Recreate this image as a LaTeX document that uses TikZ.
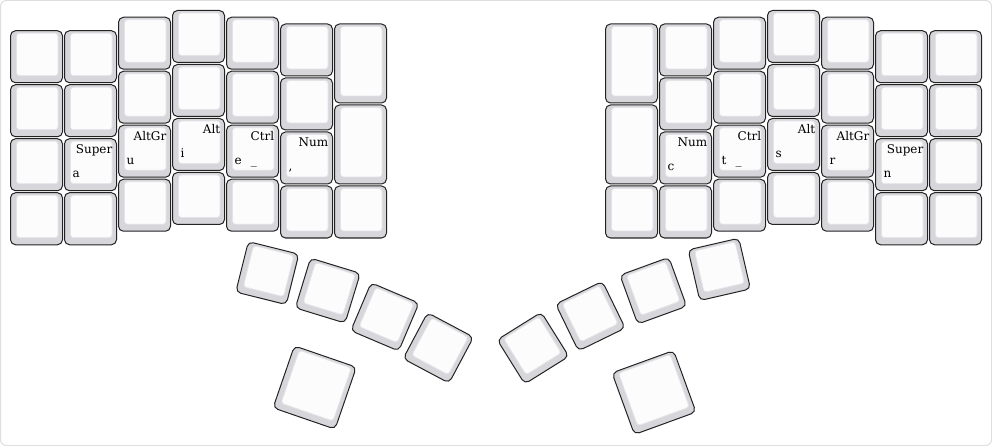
\documentclass[tikz,border=0pt]{standalone}
\usepackage{fontspec}
\setmainfont{DejaVu Serif}
\usetikzlibrary{calc}
\definecolor{keyside}{RGB}{214,214,219}
\definecolor{keytop}{RGB}{252,252,253}
\definecolor{keyedge}{RGB}{35,35,35}
\definecolor{topedge}{RGB}{228,228,232}
\definecolor{framecol}{RGB}{222,222,222}
\tikzset{
  keyouter/.style={draw=keyedge, fill=keyside, line width=1pt, rounded corners=5pt, inner sep=0pt, transform shape},
  keyinner/.style={draw=topedge, fill=keytop, line width=0.8pt, rounded corners=3pt},
  toplab/.style={anchor=base east, inner sep=0pt, font=\fontsize{12}{14}\selectfont},
  botlab/.style={anchor=base west, inner sep=0pt, font=\fontsize{12}{14}\selectfont},
}
% #1 name, #2 x, #3 y, #4 width, #5 height, #6 angle
\newcommand\kcap[6]{%
  \begin{scope}[shift={({#2},{#3})},rotate=#6]
    \node[keyouter,minimum width=#4pt,minimum height=#5pt] (#1) at (0,0) {};
    \path[keyinner] ({-#4/2-0.5+6.5},{-#5/2-0.5+3}) rectangle ({#4/2+0.5-5},{#5/2+0.5-7.5});
  \end{scope}}
\begin{document}
\begin{tikzpicture}[x=1pt,y=-1pt]
\useasboundingbox (0,0) rectangle (992,446);
\draw[framecol, line width=1pt, rounded corners=6pt] (0.5,0.5) rectangle (991.5,445.5);
% main blocks
\foreach \c/\t in {0/30.25,1/30.25,2/16.75,3/10,4/16.75,5/23.5}{
  \foreach \r in {0,...,3}{
    \kcap{L\c\r}{36.5+54*\c}{\t+26.5+54*\r}{52}{52}{0}
    \kcap{R\c\r}{992-36.5-54*\c}{\t+26.5+54*\r}{52}{52}{0}
  }
}
\kcap{L60}{360.5}{63.5}{52}{79}{0}
\kcap{L61}{360.5}{144.5}{52}{79}{0}
\kcap{L62}{360.5}{212}{52}{52}{0}
\kcap{R60}{631.5}{63.5}{52}{79}{0}
\kcap{R61}{631.5}{144.5}{52}{79}{0}
\kcap{R62}{631.5}{212}{52}{52}{0}
% thumbs left
\kcap{TL1}{267.3}{273.1}{52}{52}{-14}
\kcap{TL2}{327.8}{290.6}{52}{52}{-17}
\kcap{TL3}{384.9}{316.9}{52}{52}{-23}
\kcap{TL4}{438.3}{347.9}{52}{52}{-28}
\kcap{TL5}{314.7}{387.5}{65.5}{65.5}{-19}
% thumbs right
\kcap{TR1}{719.3}{269.4}{52}{52}{13}
\kcap{TR2}{653.3}{290.7}{52}{52}{20}
\kcap{TR3}{590.4}{316.1}{52}{52}{26}
\kcap{TR4}{533}{348.1}{52}{52}{32}
\kcap{TR5}{654}{392.5}{65.5}{65.5}{20}
% labels left
\node[toplab] (tl1) at ($(L12.north east)+(-4.5,15.5)$) {Super};
\node[botlab] (bl1) at ($(L12.north west)+(8.5,39.5)$) {a};
\node[toplab] (tl2) at ($(L22.north east)+(-4.5,15.5)$) {AltGr};
\node[botlab] (bl2) at ($(L22.north west)+(8.5,39.5)$) {u};
\node[toplab] (tl3) at ($(L32.north east)+(-4.5,15.5)$) {Alt};
\node[botlab] (bl3) at ($(L32.north west)+(8.5,39.5)$) {i};
\node[toplab] (tl4) at ($(L42.north east)+(-4.5,15.5)$) {Ctrl};
\node[botlab] (bl4) at ($(L42.north west)+(8.5,39.5)$) {e\hspace{9pt}\_};
\node[toplab] (tl5) at ($(L52.north east)+(-4.5,15.5)$) {Num};
\node[botlab] (bl5) at ($(L52.north west)+(8.5,39.5)$) {,};
% labels right
\node[toplab] (tr5) at ($(R52.north east)+(-4.5,15.5)$) {Num};
\node[botlab] (br5) at ($(R52.north west)+(8.5,39.5)$) {c};
\node[toplab] (tr4) at ($(R42.north east)+(-4.5,15.5)$) {Ctrl};
\node[botlab] (br4) at ($(R42.north west)+(8.5,39.5)$) {t\hspace{9pt}\_};
\node[toplab] (tr3) at ($(R32.north east)+(-4.5,15.5)$) {Alt};
\node[botlab] (br3) at ($(R32.north west)+(8.5,39.5)$) {s};
\node[toplab] (tr2) at ($(R22.north east)+(-4.5,15.5)$) {AltGr};
\node[botlab] (br2) at ($(R22.north west)+(8.5,39.5)$) {r};
\node[toplab] (tr1) at ($(R12.north east)+(-4.5,15.5)$) {Super};
\node[botlab] (br1) at ($(R12.north west)+(8.5,39.5)$) {n};
\end{tikzpicture}
\end{document}
